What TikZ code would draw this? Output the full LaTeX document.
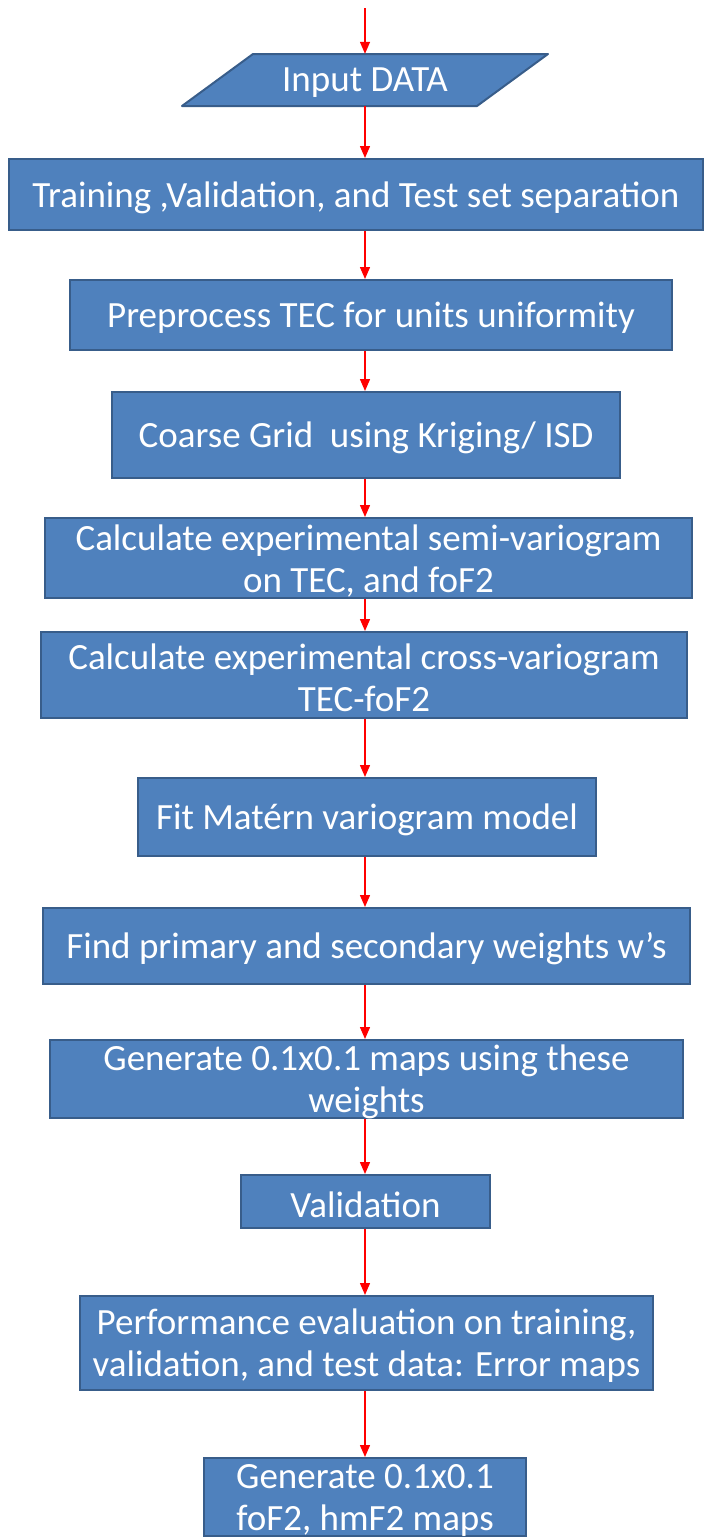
\documentclass[tikz,border=0pt]{standalone}
\usepackage{fontspec}
\setmainfont{Carlito}
\usetikzlibrary{arrows.meta}
\definecolor{boxfill}{HTML}{4F81BD}
\definecolor{boxline}{HTML}{385D8A}
\definecolor{arrred}{HTML}{FF0000}
\tikzset{
  stepbox/.style={draw=boxline, line width=2pt, fill=boxfill, inner sep=0pt, rectangle},
  steptext/.style={text=white, font=\fontsize{37pt}{42pt}\selectfont, align=center, inner sep=0pt, yshift=-3pt},
  flow/.style={draw=arrred, line width=1.4pt, -{Triangle[width=10pt,length=12pt]}}
}
\newcommand{\stepnode}[6]{% name, x1, y1, x2, y2, text
  \node[stepbox, minimum width={#4-#2}, minimum height={#5-#3}] (#1) at ({(#2+#4)/2},{(#3+#5)/2}) {};
  \node[steptext] (#1t) at (#1.center) {#6};
}
\begin{document}
\begin{tikzpicture}[x=1pt,y=-1pt]
\useasboundingbox (0,0) rectangle (708,1537);
\coordinate (start) at (365,8);
% parallelogram
\filldraw[draw=boxline, line width=2pt, fill=boxfill, line join=round] (253,54) -- (548,54) -- (477,106) -- (182,106) -- cycle;
\node[minimum width=200pt, minimum height=52pt, inner sep=0pt] (in) at (365,80) {};
\node[steptext] (int) at (in.center) {Input DATA};
\stepnode{b2}{9}{159}{703}{230}{Training ,Validation, and Test set separation}
\stepnode{b3}{70}{280}{672}{350}{Preprocess TEC for units uniformity}
\stepnode{b4}{112}{392}{620}{478}{Coarse Grid\ \ using Kriging/ ISD}
\stepnode{b5}{45}{518}{692}{598}{Calculate experimental semi-variogram\\on TEC, and foF2}
\stepnode{b6}{41}{632}{687}{718}{Calculate experimental cross-variogram\\TEC-foF2}
\stepnode{b7}{138}{778}{596}{856}{Fit Matérn variogram model}
\stepnode{b8}{43}{908}{690}{984}{Find primary and secondary weights w’s}
\stepnode{b9}{50}{1040}{683}{1118}{Generate 0.1x0.1 maps using these\\weights}
\stepnode{b10}{241}{1175}{490}{1228}{Validation}
\stepnode{b11}{80}{1296}{653}{1390}{Performance evaluation on training,\\validation, and test data: Error maps}
\stepnode{b12}{204}{1458}{526}{1536}{Generate 0.1x0.1\\foF2, hmF2 maps}
\draw[flow] (start) -- (in.north);
\draw[flow] (in.south) -- (in.south |- b2.north);
\foreach \a/\b in {b2/b3,b3/b4,b4/b5,b5/b6,b6/b7,b7/b8,b8/b9,b9/b10,b10/b11,b11/b12}{
  \draw[flow] (start |- \a.south) -- (start |- \b.north);
}
\end{tikzpicture}
\end{document}
